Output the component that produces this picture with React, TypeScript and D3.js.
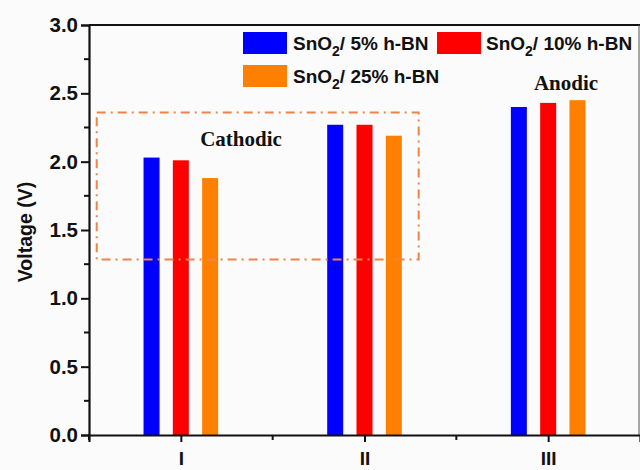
import { useEffect, useRef } from 'react'
import * as d3 from 'd3'

const categories = ['I', 'II', 'III']
const seriesNames = ['5%', '10%', '25%']
const seriesColors = ['#0000FF', '#FF0000', '#FF8000']
const values5 = [2.03, 2.27, 2.40]
const values10 = [2.01, 2.27, 2.43]
const values25 = [1.88, 2.19, 2.45]
const yTicks = [0, 0.5, 1.0, 1.5, 2.0, 2.5, 3.0]
// dashed "Cathodic" region, in data units: [x0, x1] category index, [y0, y1] volts
const boxX = [0.542, 2.295]
const boxY = [1.285, 2.36]

export default function App() {
  const svgRef = useRef<SVGSVGElement>(null)
  const width = 640
  const height = 470

  useEffect(() => {
    if (!svgRef.current) return
    const svg = d3.select(svgRef.current)
    svg.selectAll('*').remove()

    const left = 89
    const right = 640
    const top = 25
    const bottom = 435

    const x = d3.scaleLinear().domain([0.5, 3.5]).range([left, right])
    const y = d3.scaleLinear().domain([0, 3]).range([bottom, top])
    const inner = d3.scalePoint<string>().domain(seriesNames).range([-29.3, 29.3])
    const barW = 16

    svg.append('rect').attr('width', width).attr('height', height).attr('fill', '#fbfbfb')

    const allValues = [values5, values10, values25]

    // bars
    seriesNames.forEach((s, j) => {
      svg.append('g')
        .selectAll('rect')
        .data(allValues[j])
        .join('rect')
        .attr('x', (_, i) => x(i + 1) + (inner(s) as number) - barW / 2)
        .attr('y', d => y(d))
        .attr('width', barW)
        .attr('height', d => y(0) - y(d))
        .attr('fill', seriesColors[j])
    })

    // dash-dot box
    svg.append('rect')
      .attr('x', x(boxX[0]))
      .attr('y', y(boxY[1]))
      .attr('width', x(boxX[1]) - x(boxX[0]))
      .attr('height', y(boxY[0]) - y(boxY[1]))
      .attr('fill', 'none')
      .attr('stroke', '#EE8448')
      .attr('stroke-width', 2)
      .attr('stroke-dasharray', '9,5,2,5')

    // frame
    svg.append('line').attr('x1', left).attr('x2', right).attr('y1', top).attr('y2', top)
      .attr('stroke', '#111').attr('stroke-width', 2)
    svg.append('line').attr('x1', 639).attr('x2', 639).attr('y1', top).attr('y2', bottom)
      .attr('stroke', '#555').attr('stroke-width', 1)

    // y axis
    const yAxis = svg.append('g')
      .attr('transform', `translate(${left},0)`)
      .call(d3.axisLeft(y).tickValues(yTicks).tickFormat(d3.format('.1f')).tickSize(8).tickPadding(3))
    yAxis.select('.domain').attr('stroke', '#111').attr('stroke-width', 2.2)
    yAxis.selectAll('.tick line').attr('stroke', '#111').attr('stroke-width', 2)
    yAxis.selectAll('.tick text')
      .attr('fill', '#111')
      .style('font-family', 'Liberation Sans, Arial, sans-serif')
      .style('font-weight', 'bold')
      .style('font-size', '20.5px')
    svg.append('g')
      .selectAll('line')
      .data(d3.range(0.25, 3, 0.5))
      .join('line')
      .attr('x1', left - 5).attr('x2', left)
      .attr('y1', d => y(d)).attr('y2', d => y(d))
      .attr('stroke', '#111').attr('stroke-width', 2)

    // x axis
    const xAxis = svg.append('g')
      .attr('transform', `translate(0,${bottom})`)
      .call(d3.axisBottom(x).tickValues([1, 2, 3]).tickFormat((d) => categories[(d as number) - 1]).tickSize(7).tickPadding(10))
    xAxis.select('.domain').attr('stroke', '#111').attr('stroke-width', 2.2)
    xAxis.selectAll('.tick line').attr('stroke', '#111').attr('stroke-width', 2)
    xAxis.selectAll('.tick text')
      .attr('fill', '#111')
      .style('font-family', 'Liberation Sans, Arial, sans-serif')
      .style('font-weight', 'bold')
      .style('font-size', '19px')
    svg.append('g')
      .selectAll('line')
      .data([0.5, 1.5, 2.5])
      .join('line')
      .attr('x1', d => x(d)).attr('x2', d => x(d))
      .attr('y1', bottom).attr('y2', bottom + 5)
      .attr('stroke', '#111').attr('stroke-width', 2)

    // y label
    svg.append('text')
      .attr('transform', `translate(32,${(top + bottom) / 2 + 2}) rotate(-90)`)
      .attr('text-anchor', 'middle')
      .attr('fill', '#111')
      .style('font-family', 'Liberation Sans, Arial, sans-serif')
      .style('font-weight', 'bold')
      .style('font-size', '19.5px')
      .text('Voltage (V)')

    // annotations
    const serif = 'Liberation Serif, Times New Roman, serif'
    svg.append('text').attr('x', 241).attr('y', 146).attr('text-anchor', 'middle')
      .style('font-family', serif).style('font-weight', 'bold').style('font-size', '21px')
      .attr('fill', '#111').text('Cathodic')
    svg.append('text').attr('x', 566).attr('y', 90).attr('text-anchor', 'middle')
      .style('font-family', serif).style('font-weight', 'bold').style('font-size', '21px')
      .attr('fill', '#111').text('Anodic')

    // legend
    const legendPos = [
      { sx: 243, sy: 32, tx: 293, ty: 50 },
      { sx: 437, sy: 32, tx: 486, ty: 50 },
      { sx: 243, sy: 65, tx: 293, ty: 83 },
    ]
    seriesNames.forEach((s, j) => {
      const p = legendPos[j]
      svg.append('rect').attr('x', p.sx).attr('y', p.sy).attr('width', 44).attr('height', 22)
        .attr('fill', seriesColors[j])
      const t = svg.append('text').attr('x', p.tx).attr('y', p.ty)
        .attr('fill', '#111')
        .style('font-family', 'Liberation Sans, Arial, sans-serif')
        .style('font-weight', 'bold')
        .style('font-size', '19px')
      t.append('tspan').text('SnO')
      t.append('tspan').attr('dy', 6).style('font-size', '14px').text('2')
      t.append('tspan').attr('dy', -6).text(`/ ${s} h-BN`)
    })
  }, [])

  return (
    <svg
      ref={svgRef}
      width={width}
      height={height}
      style={{ position: 'absolute', left: 0, top: 0 }}
    />
  )
}
